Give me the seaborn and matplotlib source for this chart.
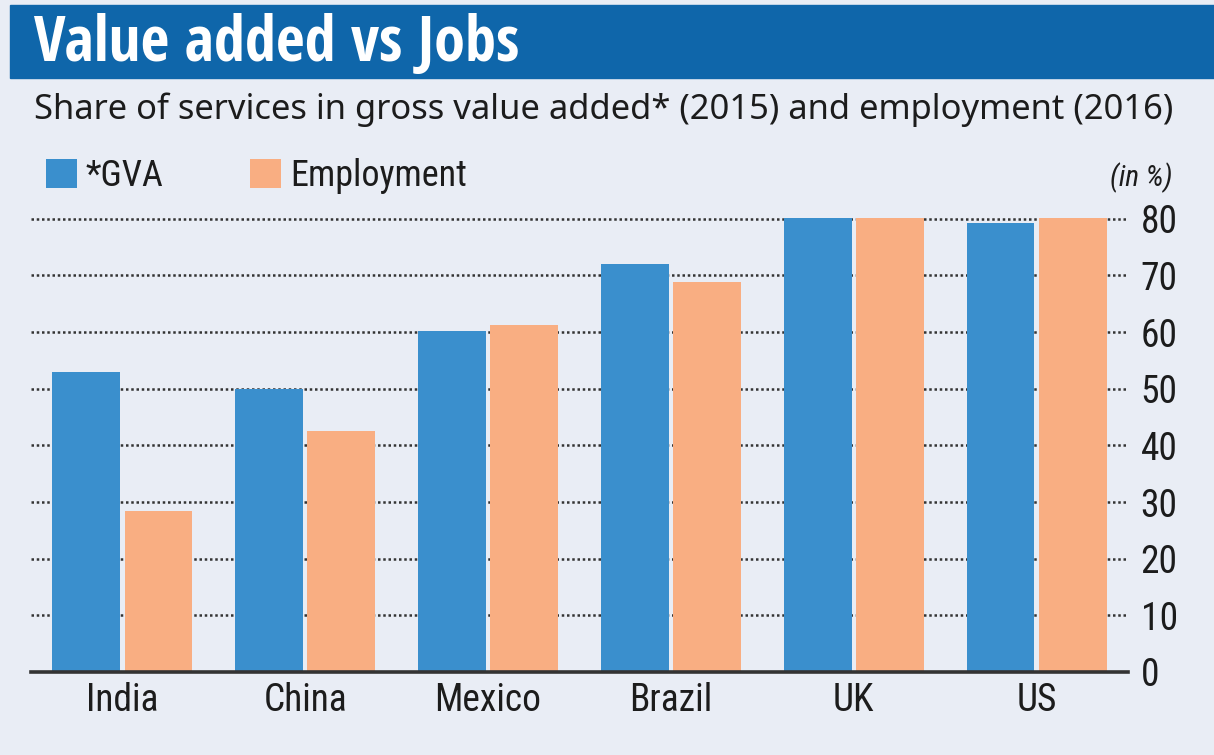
import matplotlib
matplotlib.use("Agg")
import matplotlib.pyplot as plt
import pandas as pd
import seaborn as sns
from matplotlib.patches import Rectangle

# Share of services (%) by country
countries = ["India", "China", "Mexico", "Brazil", "UK", "US"]
gva = [53.0, 50.0, 60.2, 72.1, 80.2, 79.2]
employment = [28.4, 42.6, 61.2, 68.8, 80.2, 80.2]
series_names = ["*GVA", "Employment"]
y_ticks = [0, 10, 20, 30, 40, 50, 60, 70, 80]

df = pd.DataFrame({
    "country": countries * 2,
    "series": [series_names[0]] * len(countries) + [series_names[1]] * len(countries),
    "value": gva + employment,
})

BG = "#e9edf5"
BLUE = "#3a8fcd"
ORANGE = "#f9ae82"
HEADER = "#0f66aa"
INK = "#1c1c1c"
W, H = 1214, 755

NARROW = ["Roboto Condensed", "IBM Plex Sans Condensed", "Open Sans Condensed", "DejaVu Sans"]
TITLE_FONT = ["Open Sans Condensed", "Roboto Condensed", "DejaVu Sans"]
TEXT_FONT = ["Noto Sans", "DejaVu Sans"]

sns.set_theme(style="white")
plt.rcParams["font.family"] = NARROW

fig = plt.figure(figsize=(W / 100, H / 100), dpi=100, facecolor=BG)
ax = fig.add_axes([31 / W, 1 - 672 / H, (1128 - 31) / W, (672 - 213.1) / H])
ax.set_facecolor(BG)

sns.barplot(data=df, x="country", y="value", hue="series",
            palette=[BLUE, ORANGE], width=0.79, gap=0.06, saturation=1,
            linewidth=0, ax=ax, zorder=3)

ax.set_xlim(-0.5, 5.5)
ax.set_ylim(0, 81)
ax.set_yticks(y_ticks)
ax.set_xlabel("")
ax.set_ylabel("")

# dotted horizontal gridlines behind the bars
ax.set_axisbelow(True)
ax.yaxis.grid(True, linestyle=(0, (1, 1.1)), color="#333333", linewidth=1.8)
ax.xaxis.grid(False)

for side in ("top", "left", "right"):
    ax.spines[side].set_visible(False)
ax.spines["bottom"].set_color("#333333")
ax.spines["bottom"].set_linewidth(2.6)
ax.spines["bottom"].set_zorder(4)

ax.yaxis.tick_right()
ax.tick_params(axis="y", length=0, pad=9, labelsize=27, labelcolor=INK)
ax.tick_params(axis="x", length=0, pad=7, labelsize=27, labelcolor=INK)

sns.move_legend(ax, loc="center left",
                bbox_to_anchor=(46 / W, 1 - 176 / H), bbox_transform=fig.transFigure,
                ncol=2, title=None, frameon=False, fontsize=26,
                handlelength=0.85, handleheight=0.85, handletextpad=0.25,
                columnspacing=2.4, borderpad=0, borderaxespad=0)
for t in ax.get_legend().get_texts():
    t.set_color(INK)

# header band with title
fig.add_artist(Rectangle((10 / W, 1 - 78 / H), 1, 73 / H,
                         transform=fig.transFigure, color=HEADER, zorder=0))
fig.text(34 / W, 1 - 44 / H, "Value added vs Jobs", color="white",
         fontsize=45, fontweight="bold", va="center", family=TITLE_FONT)
fig.text(34 / W, 1 - 110 / H,
         "Share of services in gross value added* (2015) and employment (2016)",
         color=INK, fontsize=24.9, va="center", family=TEXT_FONT)
fig.text(1172 / W, 1 - 178 / H, "(in %)", color=INK, fontsize=21,
         style="italic", ha="right", va="center")

fig.savefig("out.png", dpi=100, facecolor=BG)
